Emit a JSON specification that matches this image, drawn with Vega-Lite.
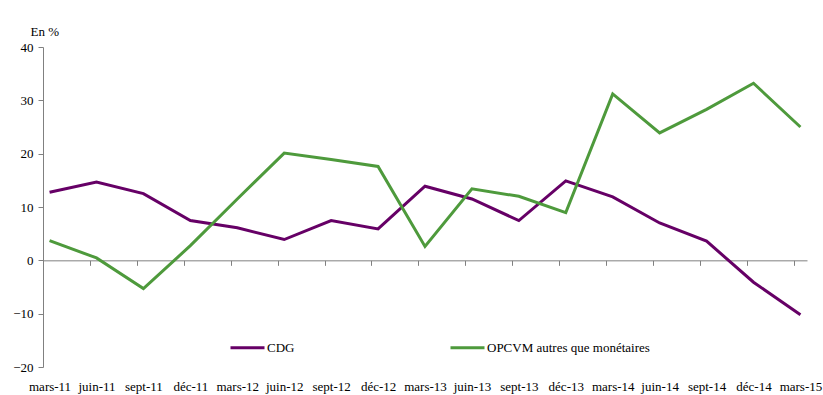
{
  "$schema": "https://vega.github.io/schema/vega-lite/v6.json",
  "width": 764,
  "height": 320,
  "autosize": {"type": "none"},
  "padding": {"left": 43, "top": 47, "right": 16, "bottom": 28},
  "background": "white",
  "config": {
    "view": {"stroke": null},
    "font": "'Liberation Serif', 'Times New Roman', serif",
    "axis": {"labelFont": "'Liberation Serif', 'Times New Roman', serif", "labelFontSize": 13, "labelColor": "#000000", "titleFont": "'Liberation Serif', 'Times New Roman', serif", "titleFontSize": 13, "titleFontWeight": "normal", "titleColor": "#000000", "grid": false},
    "legend": {"labelFont": "'Liberation Serif', 'Times New Roman', serif", "labelFontSize": 13, "labelColor": "#000000", "labelLimit": 400}
  },
  "data": {
    "values": [
      {"date": "mars-11", "serie": "CDG", "value": 12.75},
      {"date": "juin-11", "serie": "CDG", "value": 14.7},
      {"date": "sept-11", "serie": "CDG", "value": 12.5},
      {"date": "déc-11", "serie": "CDG", "value": 7.45},
      {"date": "mars-12", "serie": "CDG", "value": 6.1},
      {"date": "juin-12", "serie": "CDG", "value": 3.9},
      {"date": "sept-12", "serie": "CDG", "value": 7.45},
      {"date": "déc-12", "serie": "CDG", "value": 5.9},
      {"date": "mars-13", "serie": "CDG", "value": 13.9},
      {"date": "juin-13", "serie": "CDG", "value": 11.5},
      {"date": "sept-13", "serie": "CDG", "value": 7.45},
      {"date": "déc-13", "serie": "CDG", "value": 14.9},
      {"date": "mars-14", "serie": "CDG", "value": 11.9},
      {"date": "juin-14", "serie": "CDG", "value": 7.0},
      {"date": "sept-14", "serie": "CDG", "value": 3.6},
      {"date": "déc-14", "serie": "CDG", "value": -4.1},
      {"date": "mars-15", "serie": "CDG", "value": -10.2},
      {"date": "mars-11", "serie": "OPCVM autres que monétaires", "value": 3.7},
      {"date": "juin-11", "serie": "OPCVM autres que monétaires", "value": 0.45},
      {"date": "sept-11", "serie": "OPCVM autres que monétaires", "value": -5.3},
      {"date": "déc-11", "serie": "OPCVM autres que monétaires", "value": 2.75},
      {"date": "mars-12", "serie": "OPCVM autres que monétaires", "value": 11.5},
      {"date": "juin-12", "serie": "OPCVM autres que monétaires", "value": 20.1},
      {"date": "sept-12", "serie": "OPCVM autres que monétaires", "value": 18.9},
      {"date": "déc-12", "serie": "OPCVM autres que monétaires", "value": 17.6},
      {"date": "mars-13", "serie": "OPCVM autres que monétaires", "value": 2.6},
      {"date": "juin-13", "serie": "OPCVM autres que monétaires", "value": 13.4},
      {"date": "sept-13", "serie": "OPCVM autres que monétaires", "value": 12.0},
      {"date": "déc-13", "serie": "OPCVM autres que monétaires", "value": 8.95},
      {"date": "mars-14", "serie": "OPCVM autres que monétaires", "value": 31.2},
      {"date": "juin-14", "serie": "OPCVM autres que monétaires", "value": 23.9},
      {"date": "sept-14", "serie": "OPCVM autres que monétaires", "value": 28.3},
      {"date": "déc-14", "serie": "OPCVM autres que monétaires", "value": 33.2},
      {"date": "mars-15", "serie": "OPCVM autres que monétaires", "value": 25.0}
    ]
  },
  "encoding": {
    "y": {
      "field": "value",
      "type": "quantitative",
      "scale": {"domain": [-20, 40], "nice": false, "zero": false},
      "axis": {
        "values": [-20, -10, 0, 10, 20, 30, 40],
        "title": "En %",
        "titleAngle": 0,
        "titleAlign": "left",
        "titleBaseline": "alphabetic",
        "titleX": -13,
        "titleY": -12,
        "domainColor": "#808080",
        "tickColor": "#808080",
        "tickSize": 5,
        "labelPadding": 5
      }
    }
  },
  "layer": [
    {
      "mark": {"type": "line", "strokeWidth": 3},
      "encoding": {
        "x": {
          "field": "date",
          "type": "ordinal",
          "sort": null,
          "scale": {"type": "point", "padding": 0.14},
          "axis": {"orient": "bottom", "title": null, "domain": false, "ticks": false, "labelAngle": 0, "labelPadding": 13}
        },
        "color": {
          "field": "serie",
          "type": "nominal",
          "scale": {"domain": ["CDG", "OPCVM autres que monétaires"], "range": ["#660066", "#4e9a3c"]},
          "legend": {
            "title": null,
            "orient": "none",
            "direction": "horizontal",
            "legendX": 186,
            "legendY": 282,
            "symbolType": "stroke",
            "symbolSize": 1156,
            "symbolStrokeWidth": 3,
            "labelOffset": 1,
            "columnPadding": 149
          }
        }
      }
    },
    {
      "mark": {"type": "point", "opacity": 0},
      "encoding": {
        "x": {
          "field": "date",
          "type": "ordinal",
          "sort": null,
          "scale": {"type": "point", "padding": 0.14},
          "axis": {"orient": "bottom", "title": null, "labels": false, "domainColor": "#808080", "tickColor": "#808080", "tickSize": 5, "offset": -106.67, "tickOffset": -6.6}
        }
      }
    }
  ],
  "resolve": {"axis": {"x": "independent"}}
}
